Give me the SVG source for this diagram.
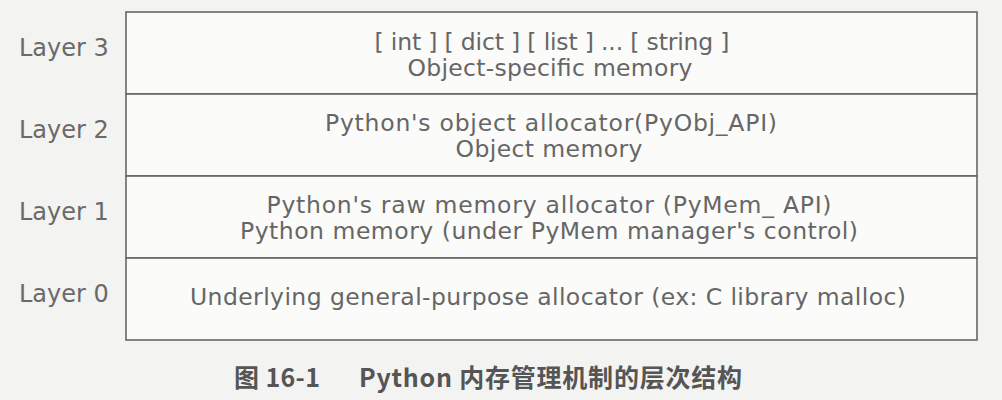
<svg xmlns="http://www.w3.org/2000/svg" width="1002" height="400" viewBox="0 0 1002 400">
<style>
.lbl{font-family:"DejaVu Sans","Liberation Sans",sans-serif;font-size:24px;fill:#6a6a6a}
.txt{font-family:"DejaVu Sans","Liberation Sans",sans-serif;font-size:23.5px;fill:#666;text-anchor:middle}
.cap{font-family:"Noto Sans CJK SC","DejaVu Sans",sans-serif;font-size:25px;font-weight:bold;fill:#555}
.box{fill:#fbfbfa;stroke:#666;stroke-width:1.6}
</style>
<rect width="1002" height="400" fill="#f3f3f1"/>
<g id="layer3">
<rect class="box" x="126" y="12" width="851" height="82"/>
<text class="lbl" x="19" y="56">Layer 3</text>
<text class="txt" x="552" y="50" textLength="355">[ int ] [ dict ] [ list ] ... [ string ]</text>
<text class="txt" x="550" y="76" textLength="285">Object-specific memory</text>
</g>
<g id="layer2">
<rect class="box" x="126" y="94" width="851" height="82"/>
<text class="lbl" x="19" y="138">Layer 2</text>
<text class="txt" x="551" y="131" textLength="452">Python's object allocator(PyObj_API)</text>
<text class="txt" x="549" y="157" textLength="187">Object memory</text>
</g>
<g id="layer1">
<rect class="box" x="126" y="176" width="851" height="82"/>
<text class="lbl" x="19" y="220">Layer 1</text>
<text class="txt" x="549" y="213" textLength="565">Python's raw memory allocator (PyMem_ API)</text>
<text class="txt" x="549" y="239" textLength="618">Python memory (under PyMem manager's control)</text>
</g>
<g id="layer0">
<rect class="box" x="126" y="258" width="851" height="82"/>
<text class="lbl" x="19" y="302">Layer 0</text>
<text class="txt" x="548" y="305" textLength="716">Underlying general-purpose allocator (ex: C library malloc)</text>
</g>
<g id="connectors"></g>
<g id="caption">
<text class="cap" x="234" y="387" textLength="86">图 16-1</text>
<text class="cap" x="359" y="387" textLength="383">Python 内存管理机制的层次结构</text>
</g>
</svg>
